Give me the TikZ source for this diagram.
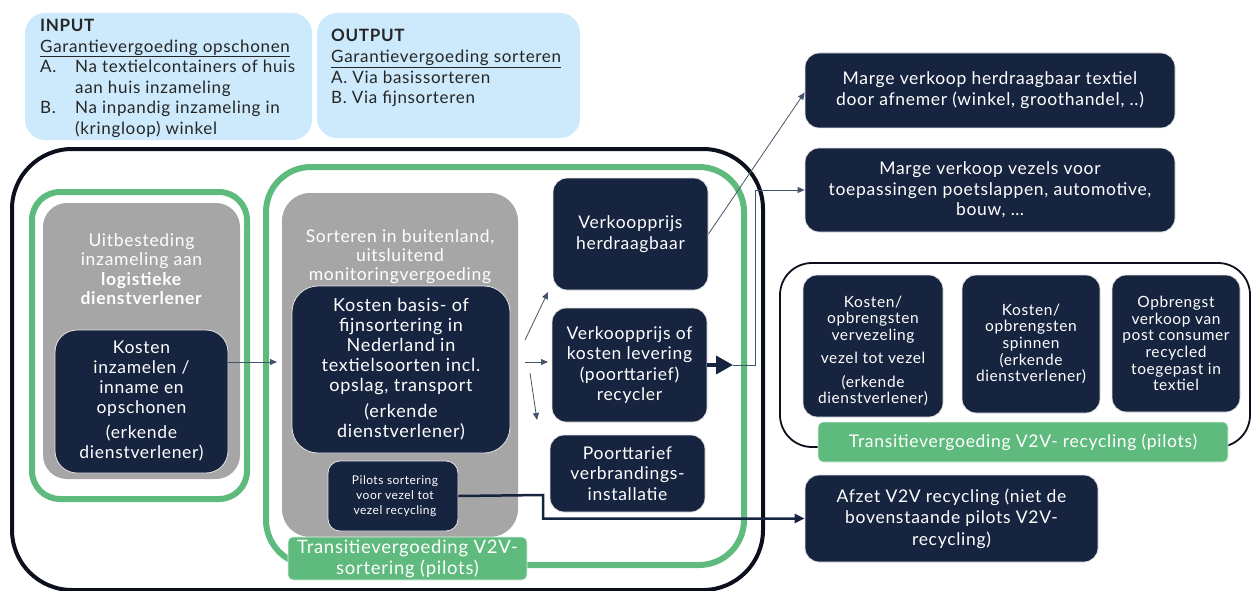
\documentclass[tikz,border=0pt]{standalone}
\usepackage{fontspec}
\setmainfont{Lato}[LetterSpace=4]
\usetikzlibrary{arrows.meta}
\definecolor{navy}{HTML}{172440}
\definecolor{graybg}{HTML}{A6A6A6}
\definecolor{greenc}{HTML}{5FBA7D}
\definecolor{lblue}{HTML}{CCEAFB}
\definecolor{conn}{HTML}{44546A}
\definecolor{blk}{HTML}{0B101C}
\newcommand{\setfs}[2]{\fontsize{#1}{#2}\selectfont}
\begin{document}
\begin{tikzpicture}[x=1pt,y=-1pt,
  navybox/.style={draw=white!80!gray, line width=0.8pt, fill=navy, text=white, rounded corners=14pt, align=center, inner sep=2pt},
  graybox/.style={fill=graybg, draw=none, rounded corners=26pt, inner sep=0pt},
  greenframe/.style={draw=greenc, line width=6pt, inner sep=0pt},
  greenlabel/.style={fill=greenc, draw=white!80!greenc, line width=0.6pt, text=white, rounded corners=5pt, align=center, inner sep=0pt},
  bluebox/.style={fill=lblue, draw=none, rounded corners=20pt, inner sep=0pt},
  plain/.style={inner sep=0pt, align=center},
  thinarrow/.style={draw=conn, line width=0.8pt, -{Triangle[length=7pt,width=6pt]}},
]
\useasboundingbox (0,0) rectangle (1252,591);

% top info boxes
\node[bluebox, minimum width=287, minimum height=127] (inbox) at (168.5,76.5) {};
\node[bluebox, minimum width=263, minimum height=125] (outbox) at (448.5,75.5) {};
\node[plain, anchor=north west, align=left, text=black!85, font=\setfs{17}{20.6}] (intxt) at (40,19) {%
  \textbf{INPUT}\\
  \underline{Garantievergoeding opschonen}\\
  \makebox[35pt][l]{A.}Na textielcontainers of huis\\
  \hspace*{35pt}aan huis inzameling\\
  \makebox[35pt][l]{B.}Na inpandig inzameling in\\
  \hspace*{35pt}(kringloop) winkel};
\node[plain, anchor=north west, align=left, text=black!85, font=\setfs{17}{20.7}] (outtxt) at (331,29) {%
  \textbf{OUTPUT}\\
  \underline{Garantievergoeding sorteren}\\
  A. Via basissorteren\\
  B. Via fijnsorteren};

% big black container
\node[draw=blk, line width=4pt, rounded corners=60pt, minimum width=751, minimum height=441, inner sep=0pt] (outer) at (387.5,369.5) {};

% left green group
\node[greenframe, rounded corners=28pt, minimum width=215, minimum height=307] (green1) at (139.5,345.5) {};
\node[graybox, rounded corners=24pt, minimum width=197, minimum height=276] (gray1) at (141.5,341) {};
\node[plain, text=white, font=\setfs{17.5}{19.5}] (gray1txt) at (141.5,269) {Uitbesteding\\inzameling aan\\\textbf{logistieke}\\\textbf{dienstverlener}};
\node[navybox, rounded corners=22pt, minimum width=173, minimum height=143, font=\setfs{17.5}{20}] (ki) at (141.5,401.5) {Kosten\\inzamelen /\\inname en\\opschonen\\[5pt](erkende\\dienstverlener)};

% middle green group
\node[greenframe, rounded corners=45pt, minimum width=478, minimum height=398] (green2) at (505,366) {};
\node[graybox, rounded corners=28pt, minimum width=236, minimum height=344] (gray2) at (400,365) {};
\node[plain, text=white, font=\setfs{17.5}{19}] (gray2txt) at (400,257) {Sorteren in buitenland,\\uitsluitend\\monitoringvergoeding};
\node[navybox, rounded corners=26pt, minimum width=218, minimum height=167, font=\setfs{18}{20}] (kb) at (401,369.5) {Kosten basis- of\\fijnsortering in\\Nederland in\\textielsoorten incl.\\opslag, transport\\[6pt](erkende\\dienstverlener)};
\node[navybox, rounded corners=12pt, minimum width=130, minimum height=70, font=\setfs{12}{15}] (pilots) at (393,496) {\hspace*{4pt}Pilots sortering\\\hspace*{4pt}voor vezel tot\\\hspace*{4pt}vezel recycling};
\node[greenlabel, minimum width=239, minimum height=43, font=\setfs{18.5}{21}] (gl1) at (407.5,558.5) {Transitievergoeding V2V-\\sortering (pilots)};

\node[navybox, minimum width=155, minimum height=112, font=\setfs{17.5}{21}] (vh) at (630.5,234) {Verkoopprijs\\herdraagbaar};
\node[navybox, minimum width=155, minimum height=114, font=\setfs{17.5}{20.5}] (vr) at (629.5,365) {Verkoopprijs of\\kosten levering\\(poorttarief)\\recycler};
\node[navybox, minimum width=155, minimum height=77, font=\setfs{17.5}{20.5}] (pv) at (627.5,473.5) {Poorttarief\\verbrandings-\\installatie};

% right column
\node[navybox, minimum width=370, minimum height=75, font=\setfs{17.5}{21}] (m1) at (990,90.5) {Marge verkoop herdraagbaar textiel\\door afnemer (winkel, groothandel, ..)};
\node[navybox, minimum width=370, minimum height=84, font=\setfs{17.5}{20.5}] (m2) at (990,190) {Marge verkoop vezels voor\\toepassingen poetslappen, automotive,\\bouw, \dots};

\node[draw=blk, line width=1.8pt, rounded corners=32pt, minimum width=470, minimum height=184, inner sep=0pt] (rc) at (1015,355) {};
\node[navybox, minimum width=140, minimum height=142] (r1) at (873,346) {};
\node[plain, text=white, font=\setfs{15.5}{16.5}] (r1txt) at (873,351) {Kosten/\\opbrengsten\\vervezeling\\[7pt]vezel tot vezel\\[7pt](erkende\\dienstverlener)};
\node[navybox, minimum width=138, minimum height=138, font=\setfs{15.5}{16.7}] (r2) at (1031,344) {Kosten/\\opbrengsten\\spinnen\\(erkende\\dienstverlener)};
\node[navybox, minimum width=128, minimum height=137, font=\setfs{15.5}{16.7}] (r3) at (1176,343.5) {Opbrengst\\verkoop van\\post consumer\\recycled\\toegepast in\\textiel};
\node[greenlabel, minimum width=410, minimum height=40, font=\setfs{17.5}{20}] (gl2) at (1023,442) {Transitievergoeding V2V- recycling (pilots)};

\node[navybox, minimum width=293, minimum height=87, font=\setfs{17.5}{21.5}] (afz) at (951.5,518.5) {Afzet V2V recycling (niet de\\bovenstaande pilots V2V-\\recycling)};

% connectors
\coordinate (kiend) at (277,362);
\draw[thinarrow] (ki.east |- kiend) -- (kiend);

\coordinate (fa1) at (525,340);
\coordinate (fb1) at (548,292);
\coordinate (fa2) at (525,362);
\coordinate (fb2) at (548,362);
\coordinate (fa3) at (530,373);
\coordinate (fb3) at (537,420);
\draw[thinarrow] (fa1) -- (fb1);
\draw[thinarrow] (fa2) -- (fb2);
\draw[thinarrow] (fa3) -- (fb3);

\coordinate (vrtip) at (733,365);
\coordinate (vrbend) at (755,365);
\draw[draw=navy, line width=3.5pt, -{Triangle[length=17pt,width=18pt]}] (vr.east) -- (vrtip);
\draw[thinarrow] (vrtip) -- (vrbend) |- (m2.west);

\draw[thinarrow] (vh.east) -- ([yshift=-2pt]m1.west);

\coordinate (pbend) at (543,495);
\draw[draw=navy, line width=2.5pt, -{Triangle[length=10pt,width=9pt]}] (pilots.east) -- (pbend) |- (afz.west);
\end{tikzpicture}
\end{document}
